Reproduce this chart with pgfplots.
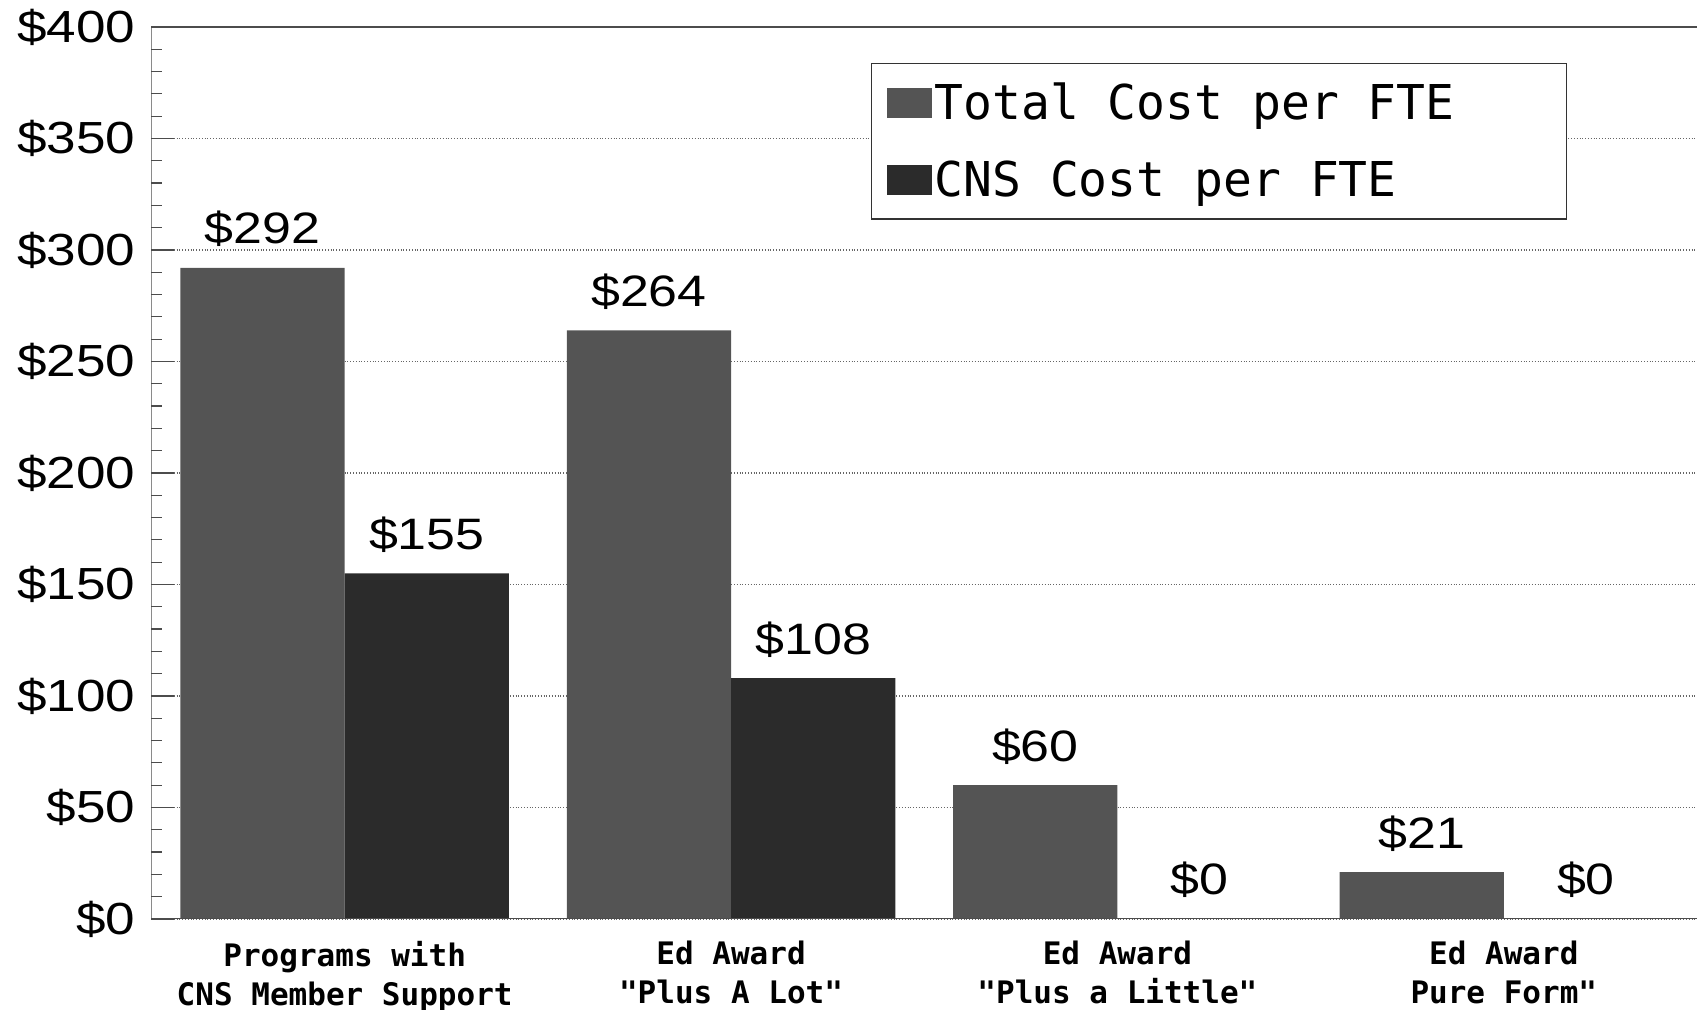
\documentclass[border=0pt]{standalone}
\usepackage{pgfplots}
\pgfplotsset{compat=1.18}
\usepackage{fontspec}
\usepackage{graphicx}
\usetikzlibrary{calc}
\setmainfont{Liberation Sans}
\newfontfamily\labelmono{DejaVu Sans Mono}

\definecolor{totalgray}{gray}{0.33}
\definecolor{cnsgray}{gray}{0.17}

% dollar figures are set a little wide
\newcommand{\wide}[1]{\scalebox{1.18}[1]{#1}}

\begin{document}
\begin{tikzpicture}
\begin{axis}[
  scale only axis,
  width=772.75pt, height=446pt,
  xmin=-0.5, xmax=3.5, ymin=0, ymax=400,
  ybar=0pt, bar width=0.425,
  /pgf/number format/assume math mode=true,
  axis line style={draw=none},
  xtick={0,1,2,3},
  xticklabels={{Programs with\\CNS Member Support},{Ed Award\\"Plus A Lot"},{Ed Award\\"Plus a Little"},{Ed Award\\Pure Form"}},
  xticklabel style={font=\labelmono\bfseries\fontsize{15.5}{19.5}\selectfont, align=center, yshift=3.5pt},
  major x tick style={draw=none},
  ytick={0,50,...,400},
  minor y tick num=4,
  ytick pos=left,
  yticklabel={\wide{\$\pgfmathprintnumber{\tick}}},
  yticklabel style={font=\fontsize{22.5}{26}\selectfont, xshift=-4.5pt},
  major tick length=11pt, minor tick length=5.5pt,
  tick style={black!70, line width=0.6pt},
  ymajorgrids,
  grid style={densely dotted, black!60, line width=0.7pt},
  nodes near coords={\wide{\$\pgfmathprintnumber{\pgfplotspointmeta}}},
  every node near coord/.append style={font=\fontsize{22}{26}\selectfont, anchor=base, yshift=12pt, black},
  legend style={at={(rel axis cs:0.9159,0.9596)}, anchor=north east,
    draw=black!80, line width=0.6pt,
    font=\labelmono\fontsize{24}{28}\selectfont,
    inner xsep=8pt, inner ysep=8.75pt, row sep=17pt,
    nodes={inner sep=1pt}, cells={anchor=west}},
  legend image code/.code={\fill[#1] (0pt,-7.5pt) rectangle (22.5pt,7.5pt);},
]
\addplot[fill=totalgray, draw=none] coordinates {(0,292) (1,264) (2,60) (3,21)};
\addlegendentry{\makebox[307pt][l]{Total Cost per FTE}}
\addplot[fill=cnsgray, draw=none] coordinates {(0,155) (1,108) (2,0) (3,0)};
\addlegendentry{\makebox[307pt][l]{CNS Cost per FTE}}

% frame: top, left and bottom only
\draw[black!70, line width=0.8pt] (rel axis cs:1,1) -- (rel axis cs:0,1) -- (rel axis cs:0,0) -- (rel axis cs:1,0);
\coordinate (axSW) at (rel axis cs:0,0);
\coordinate (axNE) at (rel axis cs:1,1);
\end{axis}
\pgfresetboundingbox
\path[use as bounding box] ($(axSW)+(-75.75pt,-45.5pt)$) rectangle ($(axNE)+(0pt,13.5pt)$);
\end{tikzpicture}
\end{document}
